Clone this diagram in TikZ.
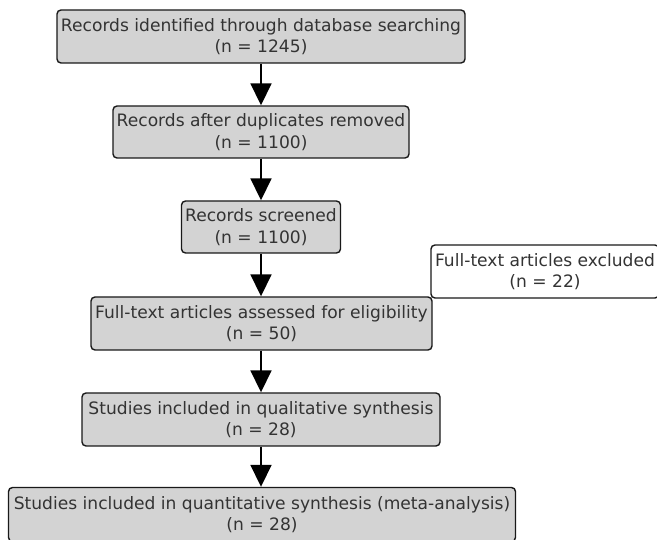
\documentclass[tikz,border=0pt]{standalone}
\usepackage{fontspec}
\setmainfont{DejaVu Sans}
\usetikzlibrary{arrows.meta}
\definecolor{boxfill}{HTML}{D3D3D3}
\definecolor{txt}{HTML}{333333}
\begin{document}
\begin{tikzpicture}[x=1pt,y=-1pt,
  box/.style={draw=black!90,line width=1.4pt,rounded corners=4pt,fill=boxfill,
    inner sep=0pt,align=center,text=txt,font=\fontsize{17.1}{21.5}\selectfont},
  wbox/.style={box,fill=white},
  arr/.style={line width=1.8pt,-{Triangle[width=21pt,length=22pt]}}]
\useasboundingbox (0,0) rectangle (657,540);
\node[box,minimum width=408pt,minimum height=53pt] (b1) at (261,36.5) {Records identified through database searching\\(n = 1245)};
\node[box,minimum width=296pt,minimum height=52pt] (b2) at (261,132) {Records after duplicates removed\\(n = 1100)};
\node[box,minimum width=159pt,minimum height=52pt] (b3) at (261,227) {Records screened\\(n = 1100)};
\node[wbox,minimum width=228pt,minimum height=53pt] (ex) at (545,271.5) {Full-text articles excluded\\(n = 22)};
\node[box,minimum width=341pt,minimum height=53pt] (b4) at (261.5,323.5) {Full-text articles assessed for eligibility\\(n = 50)};
\node[box,minimum width=358pt,minimum height=53pt] (b5) at (261,419.5) {Studies included in qualitative synthesis\\(n = 28)};
\node[box,minimum width=507pt,minimum height=54pt] (b6) at (262,514.5) {Studies included in quantitative synthesis (meta-analysis)\\(n = 28)};
\draw[arr] (b1.south -| 261,0) -- (b2.north -| 261,0);
\draw[arr] (b2.south -| 261,0) -- (b3.north -| 261,0);
\draw[arr] (b3.south -| 261,0) -- (b4.north -| 261,0);
\draw[arr] (b4.south -| 261,0) -- (b5.north -| 261,0);
\draw[arr] (b5.south -| 261,0) -- (b6.north -| 261,0);
\end{tikzpicture}
\end{document}
